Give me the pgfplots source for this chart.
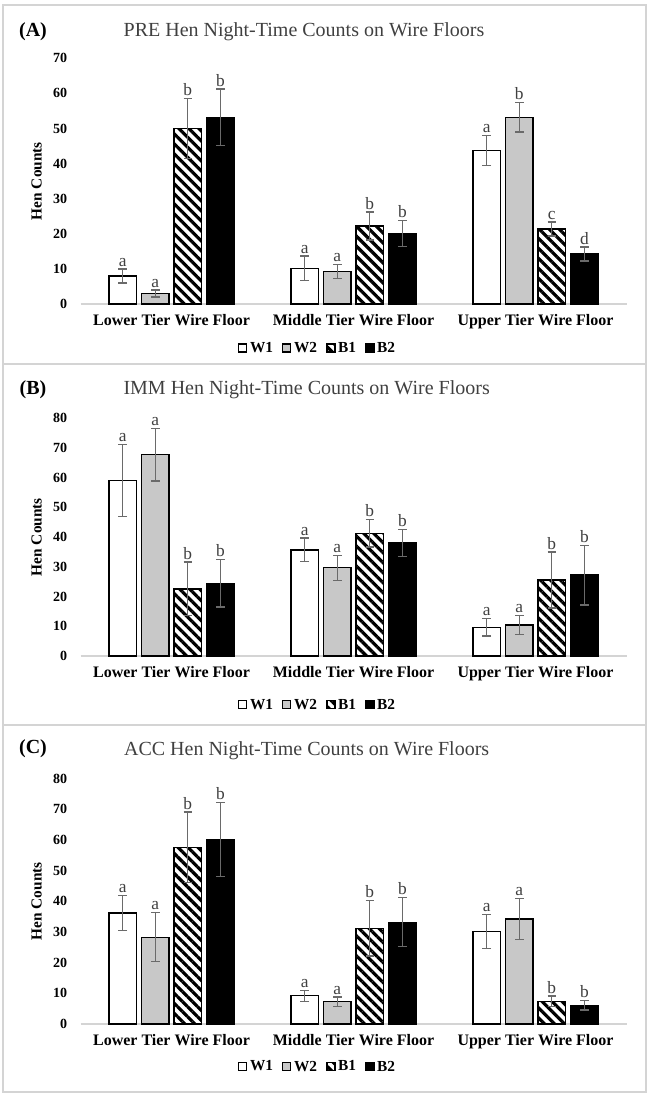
\documentclass[border=0pt]{standalone}
\usepackage{fontspec}
\setmainfont{Liberation Serif}
\usepackage{pgfplots}
\usepackage{pgfplotstable}
\pgfplotsset{compat=1.18}
\usetikzlibrary{patterns.meta}
\definecolor{wtwo}{HTML}{C8C8C8}
\definecolor{errc}{HTML}{6A6A6A}
\definecolor{titlec}{HTML}{404040}
\definecolor{framec}{HTML}{D4D4D4}
\definecolor{basec}{HTML}{D4D4D4}

\pgfplotstableread{
x W1 W1e W1l W2 W2e W2l B1 B1e B1l B2 B2e B2l
0 8.0 2.0 a 3.0 1.0 a 50.0 8.5 b 53.2 8.0 b
1 10.2 3.5 a 9.2 2.0 a 22.2 4.0 b 20.1 3.7 b
2 43.7 4.3 a 53.2 4.2 b 21.4 2.0 c 14.2 2.0 d
}\tabA
\pgfplotstableread{
x W1 W1e W1l W2 W2e W2l B1 B1e B1l B2 B2e B2l
0 59.1 12.1 a 67.7 8.8 a 22.6 9.0 b 24.5 8.0 b
1 35.7 4.0 a 29.7 4.2 a 41.3 4.6 b 38.0 4.5 b
2 9.7 3.0 a 10.4 3.2 a 25.6 9.4 b 27.2 10.0 b
}\tabB
\pgfplotstableread{
x W1 W1e W1l W2 W2e W2l B1 B1e B1l B2 B2e B2l
0 36.2 5.8 a 28.3 8.0 a 57.6 11.5 b 60.2 12.0 b
1 9.2 1.8 a 7.3 1.5 a 31.2 9.0 b 33.2 8.0 b
2 30.1 5.5 a 34.2 6.7 a 7.4 1.7 b 6.1 1.5 b
}\tabC

\pgfplotsset{
  panel/.style={
    scale only axis, width=409.5pt,
    xmin=-0.5, xmax=2.5, ymin=0,
    xtick={0,1,2},
    xticklabels={Lower Tier Wire Floor, Middle Tier Wire Floor, Upper Tier Wire Floor},
    axis x line*=bottom, axis y line*=left,
    x axis line style={draw=basec, line width=1.2pt, -},
    y axis line style={draw=none},
    major tick length=0pt,
    xticklabel style={font=\bfseries\fontsize{12}{12}\selectfont, yshift=-4.5pt},
    yticklabel style={font=\bfseries\fontsize{10.5}{11}\selectfont, xshift=-6.5pt},
    /pgf/number format/assume math mode=true,
    ylabel={Hen Counts},
    ylabel style={font=\bfseries\fontsize{11.5}{12}\selectfont, at={(axis description cs:0,0.5)}, anchor=center, yshift=33pt},
    clip=false,
    ybar, bar width=20.6pt,
    legend columns=4,
    legend style={draw=none, fill=none, font=\bfseries\fontsize{11.5}{12}\selectfont, anchor=center,
      /tikz/every even column/.append style={column sep=5pt}},
  },
  leg/.style={legend image code/.code={\draw[##1, line width=0.8pt] (0pt,-3pt) rectangle (6pt,3pt);}},
  errs/.style={error bars/.cd, y dir=both, y explicit,
    error bar style={errc, line width=1pt},
    error mark options={rotate=90, errc, mark size=3.2pt, line width=1pt}},
  lab/.style={draw=none, fill=none, forget plot, nodes near coords, point meta=explicit symbolic,
    nodes near coords style={font=\fontsize{13}{13}\selectfont, text=titlec, anchor=south, inner sep=0.8pt, yshift=1pt}},
  sW1/.style={bar shift=-36.6pt},
  sW2/.style={bar shift=-12.2pt},
  sB1/.style={bar shift=12.2pt},
  sB2/.style={bar shift=36.6pt},
  stW1/.style={draw=black, fill=white, line width=1pt},
  stW2/.style={draw=black, fill=wtwo, line width=1pt},
  stB1/.style={draw=black, line width=1pt, pattern={Lines[angle=-45,distance=5.3pt,line width=2.4pt]}, pattern color=black},
  stB2/.style={draw=black, fill=black, line width=1pt},
}

\newcommand\bars[1]{%
  \addplot[sW1, stW1, leg, errs] table[x=x, y=W1, y error=W1e] {#1};
  \addplot[sW2, stW2, leg, errs] table[x=x, y=W2, y error=W2e] {#1};
  \addplot[sB1, stB1, leg, errs] table[x=x, y=B1, y error=B1e] {#1};
  \addplot[sB2, stB2, leg, errs] table[x=x, y=B2, y error=B2e] {#1};
  \addplot[sW1, lab] table[x=x, y expr=\thisrow{W1}+\thisrow{W1e}, meta=W1l] {#1};
  \addplot[sW2, lab] table[x=x, y expr=\thisrow{W2}+\thisrow{W2e}, meta=W2l] {#1};
  \addplot[sB1, lab] table[x=x, y expr=\thisrow{B1}+\thisrow{B1e}, meta=B1l] {#1};
  \addplot[sB2, lab] table[x=x, y expr=\thisrow{B2}+\thisrow{B2e}, meta=B2l] {#1};
  \legend{W1, W2, B1, B2}%
}

\begin{document}
\begin{tikzpicture}
\useasboundingbox (0pt,0pt) rectangle (486.75pt,824.25pt);
% frames
\draw[framec, line width=1pt] (2.25pt,820.5pt) rectangle (484.5pt,551.25pt);
\draw[framec, line width=1pt] (2.25pt,551.25pt) rectangle (484.5pt,280.5pt);
\draw[framec, line width=1pt] (2.25pt,280.5pt) rectangle (484.5pt,5.25pt);
% titles
\node[font=\fontsize{15}{15}\selectfont, text=titlec] at (228pt,800.25pt) {PRE Hen Night-Time Counts on Wire Floors};
\node[font=\fontsize{15}{15}\selectfont, text=titlec] at (230pt,531.75pt) {IMM Hen Night-Time Counts on Wire Floors};
\node[font=\fontsize{15}{15}\selectfont, text=titlec] at (230pt,261pt) {ACC Hen Night-Time Counts on Wire Floors};
\node[font=\bfseries\fontsize{15}{15}\selectfont] at (24.75pt,800.25pt) {(A)};
\node[font=\bfseries\fontsize{15}{15}\selectfont] at (24.75pt,531.75pt) {(B)};
\node[font=\bfseries\fontsize{15}{15}\selectfont] at (24.75pt,262.5pt) {(C)};

\begin{axis}[panel, at={(60.4pt,596.25pt)}, anchor=south west, height=184.3pt,
  ymax=70, ytick={0,10,...,70}, legend style={at={(0.435,-0.179)}}]
\bars{\tabA}
\end{axis}

\begin{axis}[panel, at={(60.4pt,332.25pt)}, anchor=south west, height=178.3pt,
  ymax=80, ytick={0,10,...,80}, legend style={at={(0.435,-0.206)}}]
\bars{\tabB}
\end{axis}

\begin{axis}[panel, at={(60.4pt,56.25pt)}, anchor=south west, height=184pt,
  ymax=80, ytick={0,10,...,80}, legend style={at={(0.435,-0.175)}}]
\bars{\tabC}
\end{axis}
\end{tikzpicture}
\end{document}
